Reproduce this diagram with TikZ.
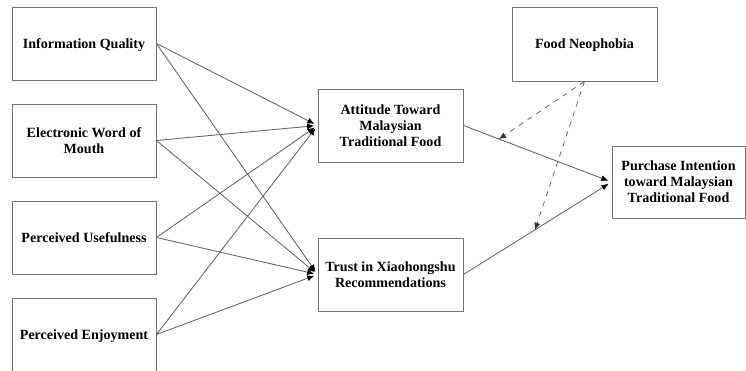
\documentclass[tikz,border=0pt]{standalone}
\usepackage{fontspec}
\setmainfont{Liberation Serif}
\usetikzlibrary{arrows.meta}
\begin{document}
\begin{tikzpicture}[x=0.02cm,y=0.02cm,
    var/.style={draw=black!55,line width=0.5pt,align=center,
      minimum width=2.88cm,minimum height=1.46cm,inner sep=1pt,text depth=-0.8pt,
      font=\fontsize{8}{9.1}\selectfont\bfseries},
    link/.style={draw=black!60,line width=0.5pt,-{Latex[length=4pt,width=3.5pt,black]},shorten >=2pt},
    moder/.style={draw=black!60,line width=0.45pt,dashed,-{Latex[length=4pt,width=3.5pt,black!80]}}]
  \useasboundingbox (0,0) rectangle (746,371);
  \draw
    (84,327.5) node[var] (iq){Information Quality}
    (84,230.5) node[var] (ewom){Electronic Word of\\Mouth}
    (84,133.5) node[var] (pu){Perceived Usefulness}
    (84,36.5) node[var] (pe){Perceived Enjoyment}
    (390.5,245.5) node[var,minimum width=2.9cm] (att){Attitude Toward\\Malaysian\\Traditional Food}
    (390.5,96.5) node[var,minimum width=2.9cm] (trust){Trust in Xiaohongshu\\Recommendations}
    (584.5,327) node[var,minimum width=2.9cm,minimum height=1.48cm] (fn){Food Neophobia}
    (678.5,189) node[var,minimum width=2.66cm,minimum height=1.44cm] (pi){Purchase Intention\\toward Malaysian\\Traditional Food};
  \begin{scope}[link]
    \draw (iq.east) to (att.west);
    \draw (iq.east) to (trust.west);
    \draw (ewom.east) to (att.west);
    \draw (ewom.east) to (trust.west);
    \draw (pu.east) to (att.west);
    \draw (pu.east) to (trust.west);
    \draw (pe.east) to (att.west);
    \draw (pe.east) to (trust.west);
    \draw (att.east) to coordinate[pos=0.24] (m1) (pi.west);
    \draw (trust.east) to coordinate[pos=0.483] (m2) (pi.west);
  \end{scope}
  \begin{scope}[moder]
    \draw (fn.south) to (m1);
    \draw (fn.south) to (m2);
  \end{scope}
\end{tikzpicture}
\end{document}
